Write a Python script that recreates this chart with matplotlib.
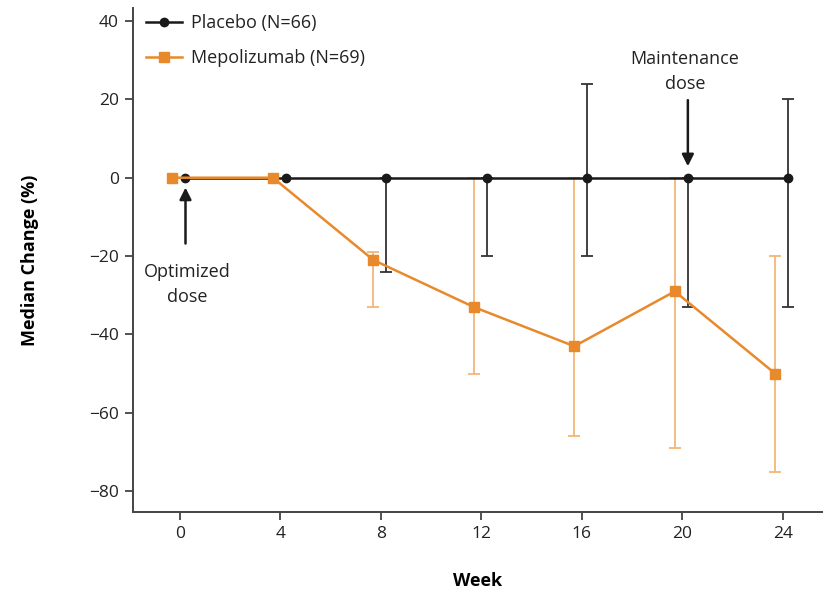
import numpy as np
import matplotlib.pyplot as plt

plt.rcParams["font.family"] = ["Open Sans", "DejaVu Sans"]

weeks = [0, 4, 8, 12, 16, 20, 24]

placebo_med = [0, 0, 0, 0, 0, 0, 0]
placebo_lo = [0, 0, -24, -20, -20, -33, -33]
placebo_hi = [0, 0, 0, 0, 24, 0, 20]

mepo_med = [0, 0, -21, -33, -43, -29, -50]
mepo_lo = [0, 0, -33, -50, -66, -69, -75]
mepo_hi = [0, 0, -19, 0, 0, 0, -20]

black = "#1a1a1a"
orange = "#E8892B"
orange_light = "#F2B676"

fig = plt.figure(figsize=(8.23, 5.89), dpi=100)
ax = fig.add_axes([0.1616, 0.1307, 0.8384, 0.8557])

xp = np.array(weeks) + 0.22
xm = np.array(weeks) - 0.3
pm = np.array(placebo_med)
mm = np.array(mepo_med)

has_p = pm != np.array(placebo_lo)
ax.errorbar(xp[has_p], pm[has_p],
            yerr=[pm[has_p] - np.array(placebo_lo)[has_p],
                  np.array(placebo_hi)[has_p] - pm[has_p]],
            fmt="none", ecolor="#333333", elinewidth=1.3, capsize=4, capthick=1.3, zorder=2)
has_m = mm != np.array(mepo_lo)
ax.errorbar(xm[has_m], mm[has_m],
            yerr=[mm[has_m] - np.array(mepo_lo)[has_m],
                  np.array(mepo_hi)[has_m] - mm[has_m]],
            fmt="none", ecolor=orange_light, elinewidth=1.3, capsize=4, capthick=1.3, zorder=1)

ax.plot(xp, pm, color=black, lw=1.8, marker="o", ms=6, label="Placebo (N=66)", zorder=3)
ax.plot(xm, mm, color=orange, lw=1.8, marker="s", ms=6.5, label="Mepolizumab (N=69)", zorder=4)

ax.set_xlim(-1.87, 25.6)
ax.set_ylim(-85.3, 43.3)
ax.set_xticks(weeks)
ax.set_yticks([40, 20, 0, -20, -40, -60, -80])
ax.set_yticklabels(["40", "20", "0", "\u221220", "\u221240", "\u221260", "\u221280"])

for s in ["top", "right"]:
    ax.spines[s].set_visible(False)
for s in ["left", "bottom"]:
    ax.spines[s].set_color("#444444")
    ax.spines[s].set_linewidth(1.4)
ax.tick_params(direction="out", length=6, width=1.3, color="#444444",
               labelsize=12.5, labelcolor="#222222", pad=4)

ax.set_xlabel("Week", fontsize=13, fontweight="bold", labelpad=22)
ax.set_ylabel("Median Change (%)", fontsize=13, fontweight="bold", labelpad=36)

ax.annotate("", xy=(0.22, -1.8), xytext=(0.22, -17.5),
            arrowprops=dict(arrowstyle="-|>,head_width=0.35,head_length=0.7",
                            color=black, lw=1.8))
ax.text(0.3, -27.3, "Optimized\ndose", ha="center", va="center", fontsize=13,
        color="#222222", linespacing=1.5)

ax.annotate("", xy=(20.22, 2.2), xytext=(20.22, 20.5),
            arrowprops=dict(arrowstyle="-|>,head_width=0.35,head_length=0.7",
                            color=black, lw=1.8))
ax.text(20.1, 27.0, "Maintenance\ndose", ha="center", va="center", fontsize=13,
        color="#222222", linespacing=1.5)

leg = ax.legend(loc="upper left", bbox_to_anchor=(0.0, 1.013), frameon=False,
                fontsize=13, handlelength=2.0, handletextpad=0.5, labelspacing=0.95,
                borderaxespad=0.3)
for t in leg.get_texts():
    t.set_color("#222222")

fig.savefig("out.png", dpi=100)
